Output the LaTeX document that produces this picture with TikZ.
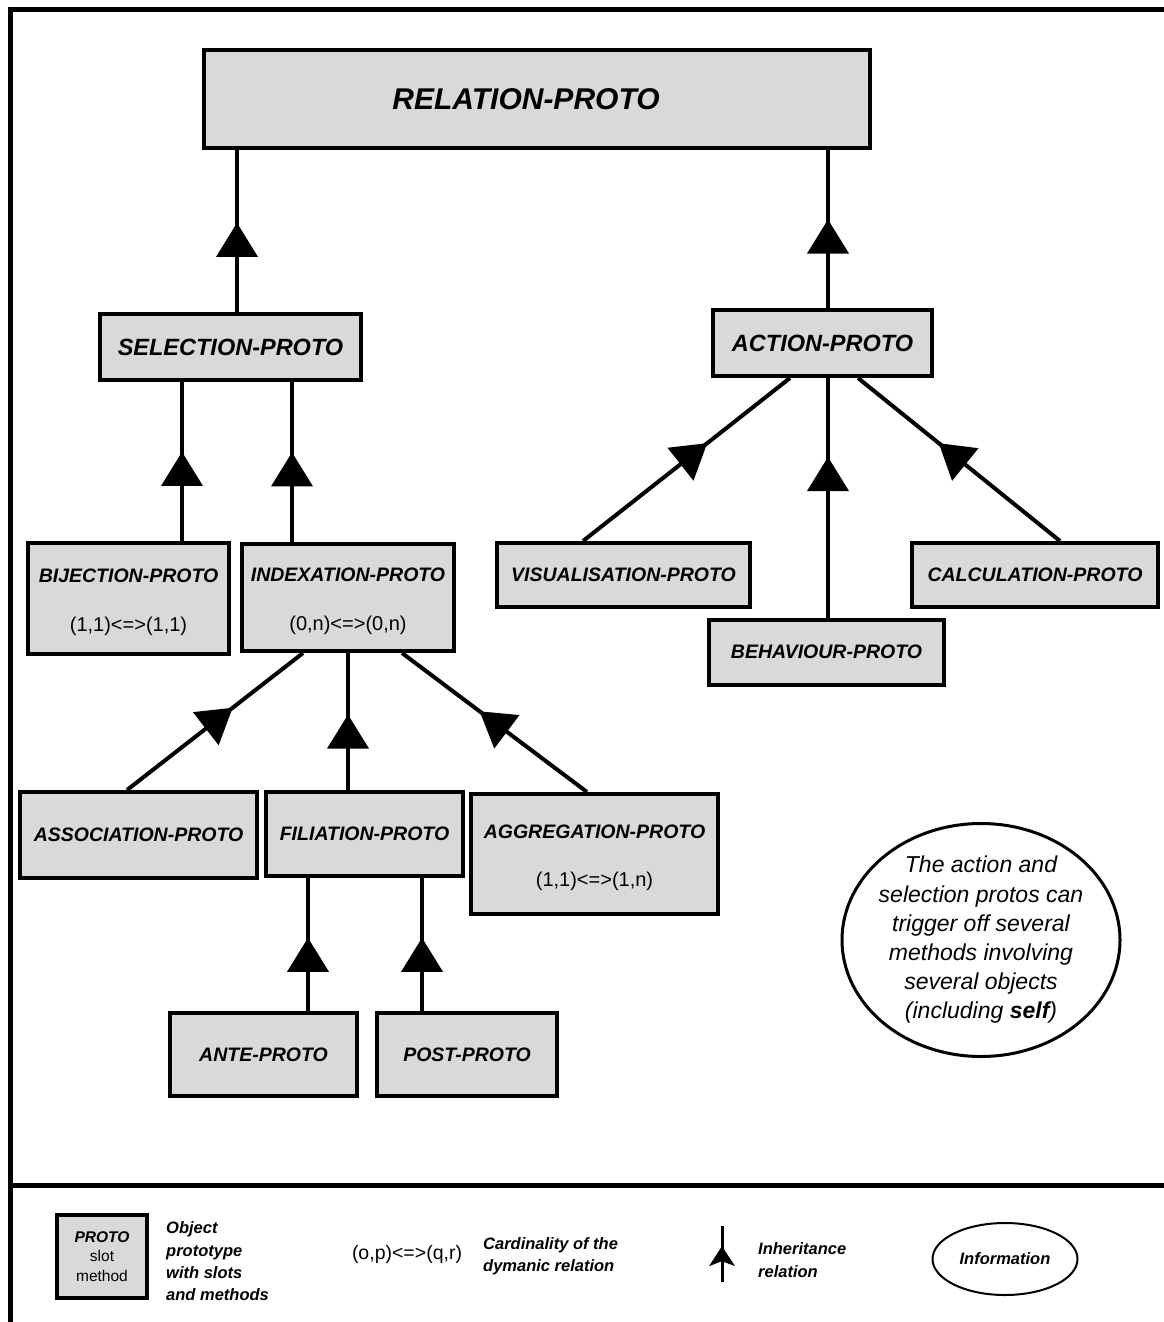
\documentclass[tikz,border=0pt]{standalone}
\usepackage{fontspec}
\setmainfont{Liberation Sans}
\usetikzlibrary{shapes.geometric,decorations.markings}
\definecolor{boxgray}{HTML}{D9D9D9}
\newcommand\boxfont{\fontsize{19.5}{24}\selectfont\bfseries\itshape}
\newcommand\cardfont{\fontsize{20}{22}\selectfont\mdseries\upshape}
\newcommand\legfont{\fontsize{16.5}{22.3}\selectfont\bfseries\itshape}
\newcommand\topstrut{\rule{0pt}{22pt}}
\tikzset{
  box/.style={draw, line width=4pt, fill=boxgray, inner sep=0pt, align=center, font=\boxfont},
  conn/.style={line width=4pt},
  frameline/.style={line width=5pt},
}
\newcommand\inh[3]{\draw[conn, postaction={decorate}, decoration={markings, mark=at position #3 with {\fill (0,0) -- (-34,21) -- (-34,-21) -- cycle;}}] #1 -- #2;}
\begin{document}
\begin{tikzpicture}[x=1pt,y=-1pt]
\useasboundingbox (0,0) rectangle (1164,1322);
% frame
\draw[frameline] (8,10) -- (1164,10);
\draw[frameline] (10,8) -- (10,1322);
\draw[frameline] (10,1185) -- (1164,1185);

% boxes
\node[box, minimum width=666pt, minimum height=98pt, font=\fontsize{30}{34}\selectfont\bfseries\itshape] (rel) at (537,99) {RELATION-PROTO\kern22pt};
\node[box, minimum width=261pt, minimum height=66pt, font=\fontsize{23.5}{28}\selectfont\bfseries\itshape] (sel) at (230.5,347) {SELECTION-PROTO};
\node[box, minimum width=219pt, minimum height=66pt, font=\fontsize{23.5}{28}\selectfont\bfseries\itshape] (act) at (822.5,343) {ACTION-PROTO};
\node[box, minimum width=201pt, minimum height=111pt] (bij) at (128.5,598.5) {\topstrut BIJECTION-PROTO\\[25pt]\cardfont (1,1)<=>(1,1)};
\node[box, minimum width=212pt, minimum height=107pt] (idx) at (348,597.5) {\topstrut INDEXATION-PROTO\\[25pt]\cardfont (0,n)<=>(0,n)};
\node[box, minimum width=253pt, minimum height=64pt] (vis) at (623.5,575) {VISUALISATION-PROTO};
\node[box, minimum width=246pt, minimum height=64pt] (calc) at (1035,575) {CALCULATION-PROTO};
\node[box, minimum width=235pt, minimum height=65pt] (beh) at (826.5,652) {BEHAVIOUR-PROTO};
\node[box, minimum width=237pt, minimum height=86pt] (asc) at (138.5,835) {ASSOCIATION-PROTO};
\node[box, minimum width=197pt, minimum height=84pt] (fil) at (364.5,834) {FILIATION-PROTO};
\node[box, minimum width=247pt, minimum height=120pt] (agg) at (594.5,854) {\topstrut AGGREGATION-PROTO\\[24pt]\cardfont (1,1)<=>(1,n)};
\node[box, minimum width=187pt, minimum height=83pt] (ante) at (263.5,1054.5) {ANTE-PROTO};
\node[box, minimum width=180pt, minimum height=83pt] (post) at (467,1054.5) {POST-PROTO};

% note
\node[inner sep=0pt, align=center, font=\fontsize{23}{29.2}\selectfont\itshape] (note) at (981,940)
  {The action and\\selection protos can\\trigger off several\\methods involving\\several objects\\(including \textbf{self})};
\draw[line width=3pt] (note.center) ellipse [x radius=139, y radius=116.5];

% inheritance connectors
\inh{([xshift=6.5pt]sel.north)}{([xshift=-300pt]rel.south)}{0.55}
\inh{([xshift=5.5pt]act.north)}{([xshift=291pt]rel.south)}{0.56}
\inh{([xshift=53.5pt]bij.north)}{([xshift=-48.5pt]sel.south)}{0.56}
\inh{([xshift=-56pt]idx.north)}{([xshift=61.5pt]sel.south)}{0.56}
\inh{([xshift=-40.5pt]vis.north)}{([xshift=-32.5pt]act.south)}{0.6}
\inh{([xshift=1.5pt]beh.north)}{([xshift=5.5pt]act.south)}{0.67}
\inh{([xshift=25pt]calc.north)}{([xshift=35.5pt]act.south)}{0.6}
\inh{([xshift=-11.5pt]asc.north)}{([xshift=-45pt]idx.south)}{0.6}
\inh{([xshift=-16.5pt]fil.north)}{([xshift=0pt]idx.south)}{0.55}
\inh{([xshift=-7.5pt]agg.north)}{([xshift=54pt]idx.south)}{0.58}
\inh{([xshift=44.5pt]ante.north)}{([xshift=-56.5pt]fil.south)}{0.55}
\inh{([xshift=-45pt]post.north)}{([xshift=57.5pt]fil.south)}{0.55}

% legend
\node[draw, line width=4pt, fill=boxgray, inner sep=0pt, minimum width=90pt, minimum height=83pt, align=center,
      font=\fontsize{15.5}{19.5}\selectfont] (lgbox) at (102,1256.5)
  {\bfseries\itshape PROTO\\slot\\method};
\node[anchor=west, align=left, inner sep=0pt, font=\legfont] (lgobj) at (166,1261.5)
  {Object\\prototype\\with slots\\and methods};
\node[inner sep=0pt, font=\fontsize{19.5}{22}\selectfont] (lgcard) at (407,1254) {(o,p)<=>(q,r)};
\node[anchor=west, align=left, inner sep=0pt, font=\legfont] (lgcardtxt) at (483,1256)
  {Cardinality of the\\dymanic relation};
\coordinate (lgi1) at (722,1282);
\coordinate (lgi2) at (722,1226);
\draw[line width=3pt, postaction={decorate}, decoration={markings, mark=at position 0.64 with {\fill (0,0) -- (-20,13) -- (-15,0) -- (-20,-13) -- cycle;}}] (lgi1) -- (lgi2);
\node[anchor=west, align=left, inner sep=0pt, font=\legfont] (lginh) at (758,1260)
  {Inheritance\\relation};
\node[draw, ellipse, line width=2pt, minimum width=145pt, minimum height=72pt, inner sep=0pt, font=\legfont] (lginfo) at (1005,1259) {Information};
\end{tikzpicture}
\end{document}
